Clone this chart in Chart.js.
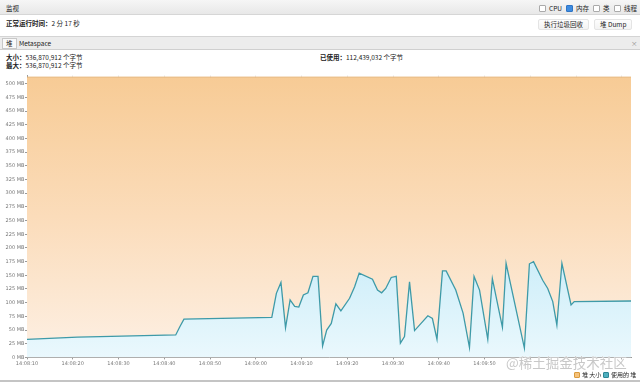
<!DOCTYPE html>
<html>
<head>
<meta charset="utf-8">
<script src="https://cdn.jsdelivr.net/npm/chart.js@4/dist/chart.umd.min.js"></script>
<style>
  body { margin: 0; width: 640px; height: 382px; overflow: hidden; background: #fff;
         font-family: "Noto Sans CJK SC", "DejaVu Sans", sans-serif; font-size: 6.5px; color: #222; position: relative; }
  .abs { position: absolute; white-space: nowrap; }
  .bar { left: 0; top: 0; width: 640px; height: 14px; background: linear-gradient(#f6f6f6, #e8e8e8); border-bottom: 1px solid #d6d6d6; }
  .box { display: inline-block; width: 5px; height: 5px; border: 1px solid #aaa; background: #fff; border-radius: 1px; vertical-align: -1px; margin-right: 3px; }
  .box.on { background: #3d8be0; border-color: #2f74c4; }
  .btn { height: 9px; line-height: 9px; padding: 0 5px; border: 1px solid #e4e4e4; border-radius: 2px; background: linear-gradient(#fdfdfd, #f3f3f3); }
  .tabs { left: 0; top: 36px; width: 640px; height: 12px; background: #ececec; border-top: 1px solid #d4d4d4; border-bottom: 1px solid #cfcfcf; }
  b { font-weight: 700; }
  #wrap { position: absolute; left: 0; top: 70px; width: 640px; height: 302px; }
</style>
</head>
<body>
<div class="abs bar"></div>
<div class="abs" style="left:6px; top:3px;">监视</div>
<div class="abs" style="left:539px; top:3px;"><span class="box"></span>CPU</div>
<div class="abs" style="left:566px; top:3px;"><span class="box on"></span>内存</div>
<div class="abs" style="left:593px; top:3px;"><span class="box"></span>类</div>
<div class="abs" style="left:614px; top:3px;"><span class="box"></span>线程</div>

<div class="abs" style="left:6px; top:18px;"><b>正常运行时间：</b>2 分 17 秒</div>
<div class="abs btn" style="left:538px; top:19px;">执行垃圾回收</div>
<div class="abs btn" style="left:594px; top:19px;">堆 Dump</div>

<div class="abs tabs"></div>
<div class="abs" style="left:2px; top:38px; height:9px; line-height:9px; padding:0 3px; background:#fafafa; border:1px solid #c8c8c8;">堆</div>
<div class="abs" style="left:19px; top:38px; line-height:10px;">Metaspace</div>
<div class="abs" style="left:631px; top:38px; line-height:10px; color:#999;">×</div>

<div class="abs" style="left:6px; top:52px;"><b>大小：</b>536,870,912 个字节</div>
<div class="abs" style="left:6px; top:60px;"><b>最大：</b>536,870,912 个字节</div>
<div class="abs" style="left:320px; top:52px;"><b>已使用：</b>112,439,032 个字节</div>

<div id="wrap"><canvas id="heapChart"></canvas></div>

<div class="abs" style="left:506px; top:352px; font-size:13.5px; color:rgba(190,190,190,0.85); text-shadow:0 0 1px #fff, 0 0 1px #fff;">@稀土掘金技术社区</div>

<div class="abs" style="left:574px; top:370px; font-size:6px;"><span class="box" style="width:4px;height:4px;background:#f6c27a;border-color:#d99a3c;margin-right:2px;"></span>堆 大小</div>
<div class="abs" style="left:603px; top:370px; font-size:6px;"><span class="box" style="width:4px;height:4px;background:#4fb0bf;border-color:#2d8695;margin-right:2px;"></span>使用的 堆</div>
<div class="abs" style="left:0; top:380px; width:640px; height:2px; background:#c4c4c4;"></div>

<script>
  // seconds since 14:08:10
  const heapTimes = [0, 132];
  const heapSizeMB = [512, 512];

  const usedTimes = [0, 11, 16, 32.5, 33.4, 34.3, 53.5, 54.5, 55.5, 56.5, 57.5, 58.5, 59.4, 60.4, 61.4, 62.5, 63.6,
    64.6, 65.5, 66.5, 67.5, 68.6, 70.5, 71.6, 72.6, 75.5, 76.6, 77.5, 78.4, 79.6, 80.7, 81.6, 82.5, 83.6, 84.7,
    87.6, 88.6, 89.6, 90.8, 91.6, 93.7, 95.3, 96.7, 97.7, 98.9, 100.7, 101.7, 103.9, 104.7, 108.7, 109.8, 110.7,
    112.7, 113.8, 114.9, 115.8, 116.9, 118.9, 119.6, 132];
  const usedHeapMB = [33, 37, 38, 41, 56, 70, 73, 117, 137, 54, 105, 93, 92, 114, 118, 148, 148,
    21, 50, 62, 98, 85, 108, 129, 154, 143, 123, 118, 126, 146, 148, 26, 38, 138, 49,
    76, 71, 33, 158, 158, 123, 81, 18, 148, 123, 33, 144, 55, 172, 17, 171, 175,
    141, 126, 102, 59, 172, 96, 102, 103];

  const xTickLabels = ['14:08:10', '14:08:20', '14:08:30', '14:08:40', '14:08:50', '14:09:00',
    '14:09:10', '14:09:20', '14:09:30', '14:09:40', '14:09:50'];

  function vGradient(ctx, stops) {
    const area = ctx.chart.chartArea;
    if (!area) return stops[stops.length - 1][1];
    const g = ctx.chart.ctx.createLinearGradient(0, area.top, 0, area.bottom);
    stops.forEach(s => g.addColorStop(s[0], s[1]));
    return g;
  }

  const tickFont = { family: 'DejaVu Sans', size: 5 };
  const gridColor = 'rgba(160,150,140,0.22)';

  new Chart(document.getElementById('heapChart'), {
    type: 'line',
    data: {
      datasets: [
        {
          label: '使用的 堆',
          data: usedTimes.map((t, i) => ({ x: t, y: usedHeapMB[i] })),
          borderColor: '#3e9aa8',
          borderWidth: 1.3,
          pointRadius: 0,
          tension: 0,
          fill: 'origin',
          order: 1,
          backgroundColor: (ctx) => vGradient(ctx, [[0, '#a6dff2'], [0.6, '#c9ecf8'], [1, '#eaf8fd']])
        },
        {
          label: '堆 大小',
          data: heapTimes.map((t, i) => ({ x: t, y: heapSizeMB[i] })),
          borderColor: '#e6b477',
          borderWidth: 1,
          pointRadius: 0,
          fill: 'origin',
          order: 2,
          backgroundColor: (ctx) => vGradient(ctx, [[0, '#f7cb95'], [0.5, '#fbdcba'], [1, '#fdf0e4']])
        }
      ]
    },
    options: {
      responsive: true,
      maintainAspectRatio: false,
      animation: false,
      layout: { padding: { top: 5.5, right: 9, left: 0, bottom: 0 } },
      plugins: { legend: { display: false }, tooltip: { enabled: false } },
      scales: {
        x: {
          type: 'linear',
          min: 0,
          max: 132,
          afterFit: (s) => { s.height = 14.6; },
          border: { color: '#9a9a9a', width: 1 },
          grid: { color: gridColor, tickLength: 2, tickColor: '#9a9a9a' },
          ticks: {
            stepSize: 10,
            includeBounds: false,
            maxRotation: 0,
            autoSkip: false,
            padding: 1,
            color: '#777',
            font: tickFont,
            callback: (v) => xTickLabels[v / 10] || ''
          }
        },
        y: {
          min: 0,
          max: 515,
          afterFit: (s) => { s.width = 27; },
          border: { color: '#9a9a9a', width: 1 },
          grid: { color: gridColor, tickLength: 2, tickColor: '#9a9a9a' },
          ticks: {
            stepSize: 25,
            includeBounds: false,
            padding: 0.5,
            color: '#777',
            font: tickFont,
            callback: (v) => v + ' MB'
          }
        }
      }
    }
  });
</script>
</body>
</html>
